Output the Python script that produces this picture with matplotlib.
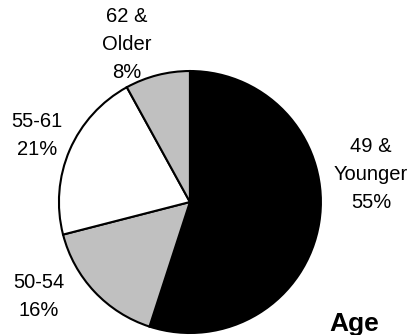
import matplotlib.pyplot as plt

plt.rcParams['font.family'] = ['Liberation Sans', 'DejaVu Sans']

# slices, clockwise from 12 o'clock
groups = ["49 &\nYounger", "50-54", "55-61", "62 &\nOlder"]
shares = [55, 16, 21, 8]
colors = ["black", "#c0c0c0", "white", "#c0c0c0"]

fig = plt.figure(figsize=(4.12, 3.35), dpi=100)
ax = fig.add_axes([0.143, 0.006, 0.636, 0.782])
ax.pie(shares, colors=colors, startangle=90, counterclock=False,
       wedgeprops=dict(edgecolor="black", linewidth=1.5))
ax.set_xlim(-1, 1)
ax.set_ylim(-1, 1)
ax.set_aspect("equal")

# label spots in figure pixels (x from left, y from top)
spots = [(371, 175), (39, 296), (37, 135), (127, 45)]
for g, s, (px, py) in zip(groups, shares, spots):
    fig.text(px / 412, 1 - py / 335, "%s\n%d%%" % (g, s), ha="center", va="center",
             fontsize=14.5, linespacing=1.6)

fig.text(354 / 412, 1 - 331 / 335, "Age", ha="center", va="baseline",
         fontsize=19, fontweight="bold")

fig.savefig("out.png", dpi=100)
